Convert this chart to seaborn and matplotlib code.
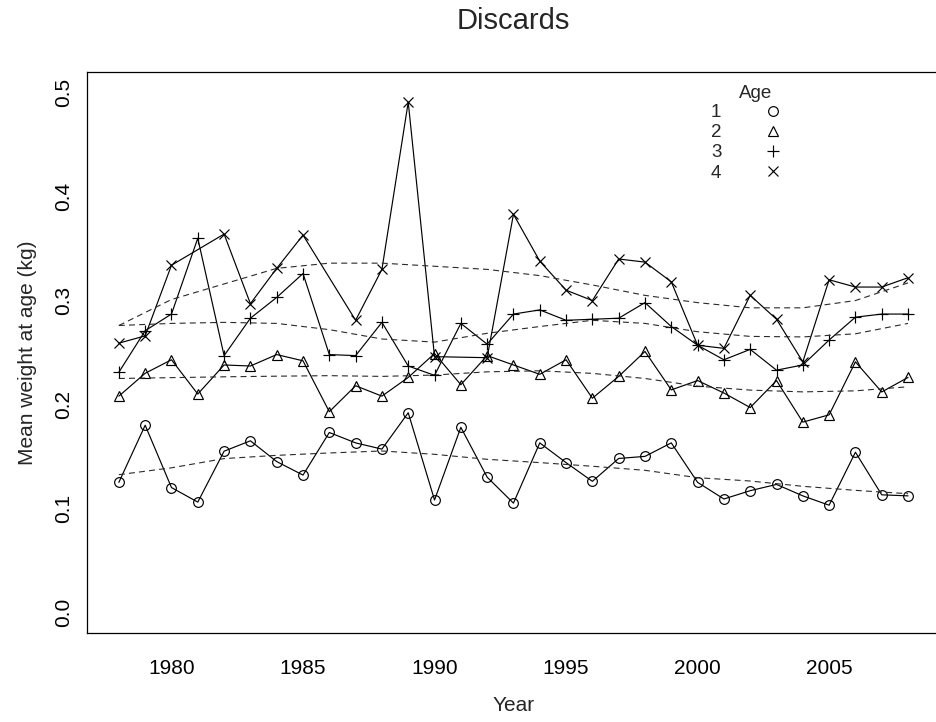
import numpy as np
import pandas as pd
import matplotlib
matplotlib.use("Agg")
import matplotlib.pyplot as plt
import seaborn as sns
from matplotlib.lines import Line2D

# Mean weight at age in discards, by year
years = list(range(1978, 2009))
age1 = [0.125, 0.180, 0.120, 0.106, 0.155, 0.165, 0.145, 0.132, 0.173, 0.163,
        0.157, 0.192, 0.108, 0.178, 0.130, 0.105, 0.163, 0.144, 0.126, 0.148,
        0.150, 0.163, 0.125, 0.109, 0.117, 0.123, 0.112, 0.103, 0.154, 0.113,
        0.112]
age2 = [0.208, 0.230, 0.243, 0.210, 0.238, 0.237, 0.248, 0.242, 0.193, 0.218,
        0.208, 0.226, 0.249, 0.219, 0.247, 0.238, 0.229, 0.243, 0.206, 0.227,
        0.251, 0.214, 0.223, 0.211, 0.197, 0.223, 0.183, 0.190, 0.241, 0.212,
        0.226]
age3 = [0.231, 0.271, 0.287, 0.360, 0.247, 0.283, 0.303, 0.326, 0.248, 0.247,
        0.279, 0.237, 0.228, 0.278, 0.258, 0.287, 0.291, 0.281, 0.282, 0.283,
        0.298, 0.275, 0.257, 0.243, 0.253, 0.233, 0.238, 0.262, 0.284, 0.287,
        0.287]
age4 = [0.259, 0.266, 0.334, np.nan, 0.364, 0.297, 0.331, 0.363, np.nan, 0.281,
        0.330, 0.491, 0.246, np.nan, 0.245, 0.383, 0.338, 0.310, 0.300, 0.340,
        0.337, 0.318, 0.257, 0.254, 0.305, 0.282, 0.241, 0.320, 0.313, 0.313,
        0.322]

# Smoothed trend per age
smooth_years = list(range(1978, 2009, 2))
smooth_age1 = [0.1324, 0.1390, 0.1479, 0.1510, 0.1533, 0.1552, 0.1520, 0.1472,
               0.1440, 0.1405, 0.1366, 0.1295, 0.1263, 0.1212, 0.1173, 0.1141]
smooth_age2 = [0.2250, 0.2258, 0.2266, 0.2272, 0.2277, 0.2270, 0.2283, 0.2314,
               0.2324, 0.2299, 0.2250, 0.2176, 0.2138, 0.2121, 0.2131, 0.2170]
smooth_age3 = [0.2760, 0.2780, 0.2790, 0.2780, 0.2720, 0.2630, 0.2600, 0.2685,
               0.2750, 0.2810, 0.2780, 0.2700, 0.2655, 0.2650, 0.2680, 0.2780]
smooth_age4 = [0.2760, 0.3010, 0.3160, 0.3310, 0.3360, 0.3360, 0.3330, 0.3300,
               0.3240, 0.3150, 0.3050, 0.2980, 0.2930, 0.2930, 0.3000, 0.3170]

ages = ["1", "2", "3", "4"]
markers = ["o", "^", "+", "x"]
marker_sizes = [7.0, 7.0, 8.0, 7.5]

series = [age1, age2, age3, age4]
smooths = [smooth_age1, smooth_age2, smooth_age3, smooth_age4]

sns.set_style("white")
plt.rcParams["font.family"] = ["Liberation Sans", "DejaVu Sans"]
plt.rcParams["lines.scale_dashes"] = False

fig = plt.figure(figsize=(9.37, 7.22), dpi=100)
ax = fig.add_axes([0.09317, 0.12327, 0.90961, 0.77701])

for label, vals, sm, mk, ms in zip(ages, series, smooths, markers, marker_sizes):
    df = pd.DataFrame({"Year": years, "weight": vals}).dropna()
    sns.lineplot(data=df, x="Year", y="weight", ax=ax, color="black",
                 lw=0.85, marker=mk, markersize=ms, mfc="none", mec="black",
                 mew=0.85, estimator=None, sort=False)
    sdf = pd.DataFrame({"Year": smooth_years, "weight": sm})
    sns.lineplot(data=sdf, x="Year", y="weight", ax=ax, color="#2a2a2a",
                 lw=0.8, dashes=False, linestyle=(0, (4.3, 3.0)),
                 estimator=None, sort=False)

ax.set_xlim(1976.8, 2009.2)
ax.set_ylim(-0.02, 0.52)
ax.set_xticks([1980, 1985, 1990, 1995, 2000, 2005])
ax.set_yticks([0.0, 0.1, 0.2, 0.3, 0.4, 0.5])
ax.set_yticklabels(["0.0", "0.1", "0.2", "0.3", "0.4", "0.5"],
                   rotation=90, va="center")

for sp in ax.spines.values():
    sp.set_visible(True)
    sp.set_color("black")
    sp.set_linewidth(0.9)

ax.tick_params(axis="both", direction="out", length=8, width=0.8,
               colors="black", labelsize=15)
ax.tick_params(axis="x", pad=10.5)
ax.tick_params(axis="y", pad=2.5)

ax.set_xlabel("Year", fontsize=15, labelpad=13)
ax.set_ylabel("Mean weight at age (kg)", fontsize=15, labelpad=12)
ax.set_title("Discards", fontsize=21, pad=31)

handles = [Line2D([], [], ls="none", marker=m, markersize=s, mfc="none",
                  mec="black", mew=0.85) for m, s in zip(markers, marker_sizes)]
leg = ax.legend(handles, ages, title="Age", loc="upper left",
                bbox_to_anchor=(711 / 937, 1 - 85 / 722),
                bbox_transform=fig.transFigure, frameon=False,
                markerfirst=False, handlelength=2.9, handletextpad=1.3,
                labelspacing=0.16, borderpad=0, borderaxespad=0,
                fontsize=13.5, title_fontsize=13.5)
leg._legend_box.sep = 1.5

fig.savefig("out.png", dpi=100)
